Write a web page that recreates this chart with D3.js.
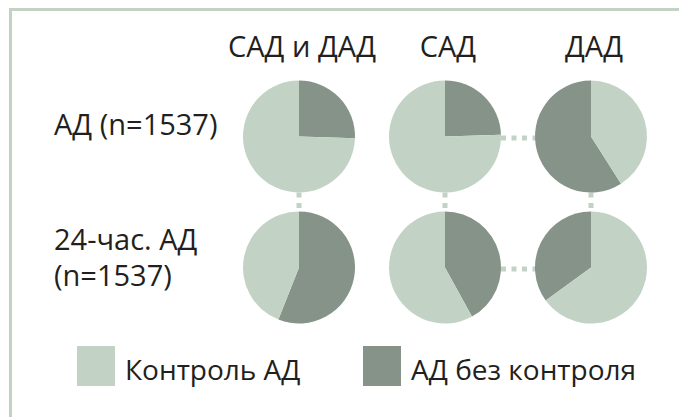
<!DOCTYPE html>
<html>
<head>
<meta charset="utf-8">
<script src="https://cdn.jsdelivr.net/npm/d3@7"></script>
<style>
  body { margin: 0; background: #fff; }
  text { font-family: "Open Sans", sans-serif; fill: #231f20; }
</style>
</head>
<body>
<svg id="chart" width="679" height="417"></svg>
<script>
// chart data
var columns = ['САД и ДАД', 'САД', 'ДАД'];
var rowLabels = [['АД (n=1537)'], ['24-час. АД', '(n=1537)']];
var uncontrolled = [[25.5, 24.5, 59], [56, 42, 35]];
var controlled = [[74.5, 75.5, 41], [44, 58, 65]];
var clockwise = [true, true, false];
var legendLabels = ['Контроль АД', 'АД без контроля'];
// pies joined by dotted links: [row, col] -> [row, col]
var links = [
    [[0, 0], [1, 0]],
    [[0, 1], [0, 2]],
    [[0, 1], [1, 1]],
    [[0, 2], [1, 2]],
    [[1, 1], [1, 2]]
];

var light = '#c2d3c6',
    dark = '#869389',
    r = 56;

var svg = d3.select('#chart');

// frame
svg.append('rect')
    .attr('x', 10.5)
    .attr('y', 9.5)
    .attr('width', 700)
    .attr('height', 450)
    .style('fill', 'none')
    .style('stroke', light)
    .style('stroke-width', 3);

var x = d3.scalePoint().domain(d3.range(columns.length)).range([299, 591]);
var y = d3.scalePoint().domain(d3.range(rowLabels.length)).range([136.5, 267.5]);

// dotted links, drawn first so pies cover the ends
links.forEach(function (l) {
    var a = l[0], b = l[1];
    var x1 = x(a[1]), y1 = y(a[0]), x2 = x(b[1]), y2 = y(b[0]);
    var horiz = a[0] === b[0];
    svg.append('line')
        .attr('x1', horiz ? x1 + r : x1)
        .attr('y1', horiz ? y1 + 1.5 : y1 + r)
        .attr('x2', horiz ? x2 - r : x2)
        .attr('y2', horiz ? y2 + 1.5 : y2 - r)
        .style('stroke', light)
        .style('stroke-width', 5)
        .style('stroke-dasharray', '5,5.5');
});

var arc = d3.arc().innerRadius(0).outerRadius(r);

rowLabels.forEach(function (row, i) {
    columns.forEach(function (col, j) {
        var pie = d3.pie()
            .sort(null)
            .value(function (d) { return d.v; })
            .startAngle(0)
            .endAngle(clockwise[j] ? 2 * Math.PI : -2 * Math.PI);
        var slices = pie([
            { v: uncontrolled[i][j], c: dark },
            { v: controlled[i][j], c: light }
        ]);
        svg.append('g')
            .attr('transform', 'translate(' + x(j) + ',' + y(i) + ')')
            .selectAll('path')
            .data(slices)
            .enter()
            .append('path')
            .attr('d', arc)
            .style('fill', function (d) { return d.data.c; });
    });
});

// column headers
svg.selectAll('.col-label')
    .data(columns)
    .enter()
    .append('text')
    .attr('x', function (d, j) { return x(j) + 3; })
    .attr('y', 57)
    .attr('text-anchor', 'middle')
    .style('font-size', '29px')
    .text(function (d) { return d; });

// row labels, wrapped lines as tspans of one text
var rowBase = [135, 250];
rowLabels.forEach(function (lines, i) {
    svg.append('text')
        .attr('y', rowBase[i])
        .style('font-size', '29px')
        .selectAll('tspan')
        .data(lines)
        .enter()
        .append('tspan')
        .attr('x', 54)
        .attr('dy', function (d, k) { return k ? 36 : 0; })
        .text(function (d) { return d; });
});

// legend
var legend = svg.selectAll('.legend')
    .data(legendLabels)
    .enter()
    .append('g')
    .attr('transform', function (d, i) { return 'translate(' + [77, 363][i] + ',346)'; });

legend.append('rect')
    .attr('width', 38)
    .attr('height', 40)
    .style('fill', function (d, i) { return [light, dark][i]; });

legend.append('text')
    .attr('x', 48)
    .attr('y', 34)
    .style('font-size', '28px')
    .text(function (d) { return d; });
</script>
</body>
</html>
